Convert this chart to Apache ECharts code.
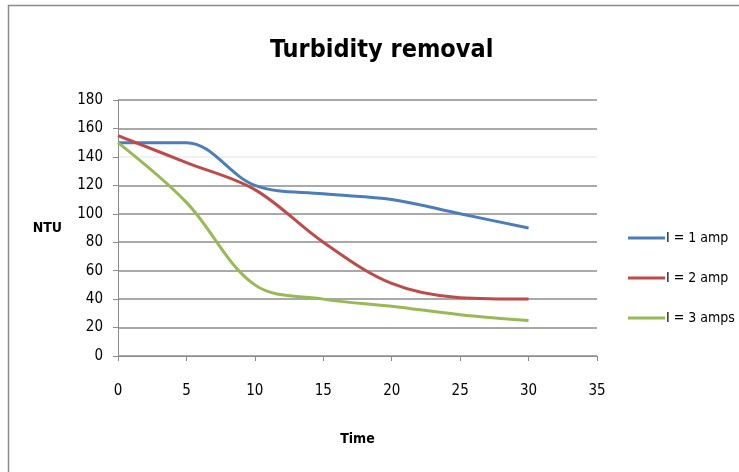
<!DOCTYPE html>
<html>
<head>
<meta charset="utf-8">
<script src="https://cdn.jsdelivr.net/npm/echarts@6/dist/echarts.min.js"></script>
<style>
  html, body { margin: 0; padding: 0; background: #fff; }
  #chart { width: 739px; height: 472px; }
</style>
</head>
<body>
<div id="chart"></div>
<script>
  // time in minutes
  const times = [0, 5, 10, 15, 20, 25, 30];
  const amp1 = [150, 150, 120, 114, 110, 100, 90];
  const amp2 = [155, 136, 117, 80, 51, 41, 40];
  const amp3 = [150, 108, 50, 40, 35, 29, 25];
  const seriesNames = ['I = 1 amp', 'I = 2 amp', 'I = 3 amps'];
  const colors = ['#4a7ebb', '#be4b48', '#98b954'];

  const font = '"DejaVu Sans Condensed", "Liberation Sans Narrow", "Open Sans", sans-serif';
  const gridGray = '#8c8c8c';

  const pairs = function(ys) {
    return times.map((t, i) => [t, ys[i]]);
  };

  const lineSeries = [amp1, amp2, amp3].map((ys, i) => {
    return {
      name: seriesNames[i],
      type: 'line',
      data: pairs(ys),
      smooth: 0.35,
      showSymbol: false,
      symbol: 'none',
      lineStyle: { width: 3, color: colors[i] },
      itemStyle: { color: colors[i] }
    };
  });

  const chart = echarts.init(document.getElementById('chart'));
  chart.setOption({
    animation: false,
    color: colors,
    textStyle: { fontFamily: font },
    title: {
      text: 'Turbidity removal',
      left: 265,
      top: 33,
      textStyle: { fontFamily: font, fontSize: 25, fontWeight: 'bold', color: '#000' }
    },
    graphic: [{
      type: 'rect',
      shape: { x: 8.5, y: 5.5, width: 800, height: 600 },
      style: { fill: 'none', stroke: '#8a8a8a', lineWidth: 1.5 },
      silent: true
    }],
    legend: {
      orient: 'vertical',
      left: 623,
      top: 226,
      itemGap: 26,
      itemWidth: 37,
      itemHeight: 3,
      icon: 'rect',
      textStyle: { fontFamily: font, fontSize: 14, color: '#000', padding: [0, 0, 0, -4] },
      data: seriesNames
    },
    grid: { left: 118, right: 142, top: 100, bottom: 116 },
    xAxis: {
      type: 'value',
      min: 0,
      max: 35,
      interval: 5,
      name: 'Time',
      nameLocation: 'middle',
      nameGap: 76,
      nameTextStyle: { fontFamily: font, fontSize: 14, fontWeight: 'bold', color: '#000' },
      axisLine: { lineStyle: { color: gridGray, width: 1 } },
      axisTick: { show: true, length: 5, inside: false, lineStyle: { color: gridGray } },
      axisLabel: { fontFamily: font, fontSize: 15, color: '#000', margin: 28 },
      splitLine: { show: false }
    },
    yAxis: {
      type: 'value',
      min: 0,
      max: 180,
      interval: 20,
      name: 'NTU',
      nameLocation: 'middle',
      nameRotate: 0,
      nameGap: 56,
      nameTextStyle: { fontFamily: font, fontSize: 14, fontWeight: 'bold', color: '#000' },
      axisLine: { show: true, lineStyle: { color: gridGray, width: 1 } },
      axisTick: { show: true, length: 5, lineStyle: { color: gridGray } },
      axisLabel: { fontFamily: font, fontSize: 15, color: '#000', margin: 15 },
      splitLine: {
        show: true,
        lineStyle: {
          width: 1.5,
          color: [gridGray, gridGray, gridGray, gridGray, gridGray, gridGray, gridGray, '#ececec', gridGray, gridGray]
        }
      }
    },
    series: lineSeries
  });
</script>
</body>
</html>
